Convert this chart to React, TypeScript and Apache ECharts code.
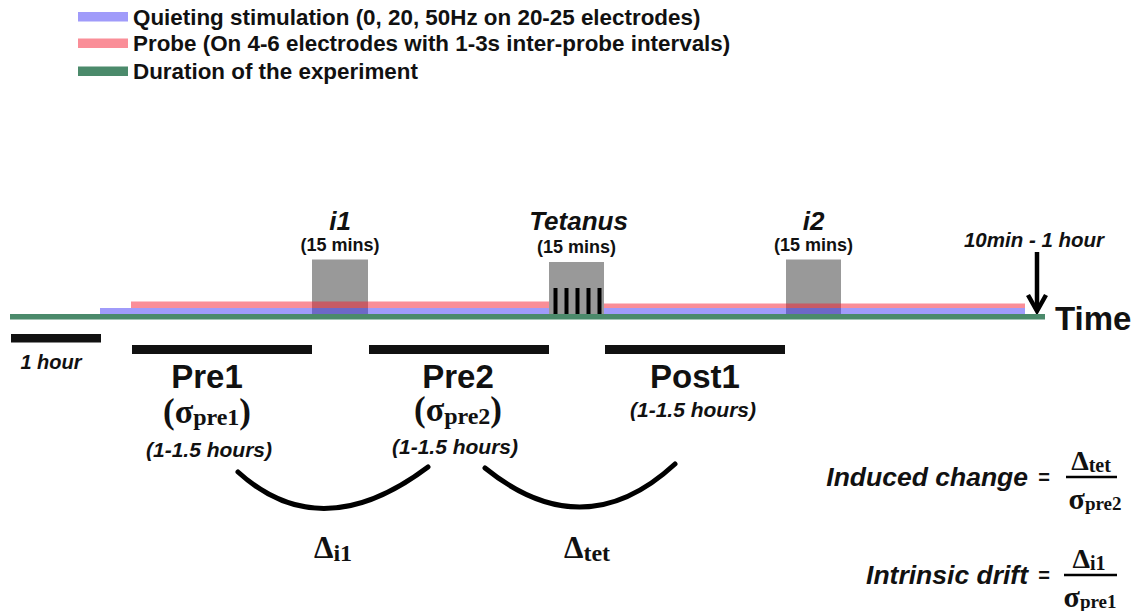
import React, { useEffect, useRef } from "react";
import * as echarts from "echarts";

// ---------------- data ----------------
const legendLabels = [
  "Quieting stimulation (0, 20, 50Hz on 20-25 electrodes)",
  "Probe (On 4-6 electrodes with 1-3s inter-probe intervals)",
  "Duration of the experiment",
];
// timeline in diagram units (left -> right)
const experimentSpan = [[10, 1045]];
const quietingSegments = [[100, 549], [604, 1025]];
const probeSegments = [[131, 549], [604, 1025]];
const interventions = ["i1", "Tetanus", "i2"];
const interventionStart = [312, 549, 786];
const interventionEnd = [368, 604, 841];
const interventionDuration = ["(15 mins)", "(15 mins)", "(15 mins)"];
const tetanusPulses = [555.5, 566.5, 577.5, 588.5, 599.5];
const phases = ["Pre1", "Pre2", "Post1"];
const phaseStart = [132, 369, 605];
const phaseEnd = [312, 549, 785];
const phaseSigma = ["pre1", "pre2", ""];
const phaseDuration = ["(1-1.5 hours)", "(1-1.5 hours)", "(1-1.5 hours)"];
const scaleBar = [[11, 101]];
const scaleLabel = "1 hour";
const comparisons = ["i1", "tet"];
const comparisonStart = [238, 485];
const comparisonEnd = [428, 675];
const endNote = "10min - 1 hour";
const axisName = "Time";
const formulas = ["Induced change", "Intrinsic drift"];
const formulaNum = ["tet", "i1"];
const formulaDen = ["pre2", "pre1"];

// ---------------- styles ----------------
const W = 1143;
const H = 611;
const BLUE = "rgba(65,55,245,0.5)";
const PINK = "rgba(245,30,50,0.5)";
const GREEN = "#4b8a6b";
const GRAY = "#999999";
const INK = "#111111";
const SANS = "'Liberation Sans', Arial, Helvetica, sans-serif";
const SERIF = "'Liberation Serif', 'Times New Roman', serif";

const phaseLabelDx = [-15, -1, 0];

function subRich(main: string, sub: string, mainSize: number, subSize: number, drop: number, parens = false) {
  const text = parens ? `{p|(}{m|${main}}{s|${sub}}{p|)}` : `{m|${main}}{s|${sub}}`;
  const lh = mainSize;
  return {
    text,
    rich: {
      p: { fontFamily: SERIF, fontWeight: "bold", fontSize: mainSize + 1, fill: INK, lineHeight: lh },
      m: { fontFamily: SERIF, fontWeight: "bold", fontSize: mainSize, fill: INK, lineHeight: lh },
      s: { fontFamily: SERIF, fontWeight: "bold", fontSize: subSize, fill: INK, padding: [drop, 0, 0, 0], lineHeight: Math.max(8, lh - drop - 6) },
    },
  };
}

function segmentSeries(name: string, data: number[][], yTop: number, yBot: number, color: string, z: number) {
  return {
    type: "custom",
    name,
    data,
    z,
    clip: false,
    renderItem: (params: any, api: any) => {
      const a = api.coord([api.value(0), yTop]);
      const b = api.coord([api.value(1), yBot]);
      return {
        type: "rect",
        shape: { x: a[0], y: a[1], width: b[0] - a[0], height: b[1] - a[1] },
        style: { fill: color },
      };
    },
  };
}

function buildOption() {
  const series: any[] = [];

  // gray intervention boxes + labels
  series.push({
    type: "custom",
    name: "interventions",
    z: 1,
    clip: false,
    data: interventions.map((n, i) => [interventionStart[i], interventionEnd[i]]),
    renderItem: (params: any, api: any) => {
      const i = params.dataIndex;
      const isTet = interventions[i] === "Tetanus";
      const a = api.coord([api.value(0), isTet ? 262 : 259.5]);
      const b = api.coord([api.value(1), 314]);
      const cx = (a[0] + b[0]) / 2;
      const children: any[] = [
        { type: "rect", shape: { x: a[0], y: a[1], width: b[0] - a[0], height: b[1] - a[1] }, style: { fill: GRAY } },
        {
          type: "text",
          x: cx + (isTet ? 2 : 0),
          y: api.coord([0, 221])[1],
          style: { text: interventions[i], fontFamily: SANS, fontWeight: "bold", fontStyle: "italic", fontSize: 26, fill: INK, align: "center", verticalAlign: "middle" },
        },
        {
          type: "text",
          x: cx,
          y: api.coord([0, isTet ? 247 : 245])[1],
          style: { text: interventionDuration[i], fontFamily: SANS, fontWeight: "bold", fontSize: 18, fill: INK, align: "center", verticalAlign: "middle" },
        },
      ];
      if (isTet) {
        tetanusPulses.forEach((p) => {
          const t = api.coord([p - 2, 288]);
          const u = api.coord([p + 2, 314]);
          children.push({ type: "rect", shape: { x: t[0], y: t[1], width: u[0] - t[0], height: u[1] - t[1] }, style: { fill: "#000" } });
        });
      }
      return { type: "group", children };
    },
  });

  series.push(segmentSeries(legendLabels[2], experimentSpan, 314, 319.5, GREEN, 2));
  series.push(segmentSeries(legendLabels[0], quietingSegments, 308, 314, BLUE, 3));
  series.push({
    ...segmentSeries(legendLabels[1], probeSegments, 302, 308, PINK, 3),
    renderItem: (params: any, api: any) => {
      const top = params.dataIndex === 0 ? 301.5 : 303.5;
      const a = api.coord([api.value(0), top]);
      const b = api.coord([api.value(1), 308]);
      return { type: "rect", shape: { x: a[0], y: a[1], width: b[0] - a[0], height: b[1] - a[1] }, style: { fill: PINK } };
    },
  });

  // 1-hour scale bar
  series.push({
    type: "custom",
    name: "scale",
    clip: false,
    data: scaleBar,
    renderItem: (params: any, api: any) => {
      const a = api.coord([api.value(0), 334]);
      const b = api.coord([api.value(1), 342.5]);
      return {
        type: "group",
        children: [
          { type: "rect", shape: { x: a[0], y: a[1], width: b[0] - a[0], height: b[1] - a[1] }, style: { fill: "#111" } },
          {
            type: "text",
            x: (a[0] + b[0]) / 2 - 5,
            y: api.coord([0, 362])[1],
            style: { text: scaleLabel, fontFamily: SANS, fontWeight: "bold", fontStyle: "italic", fontSize: 20, fill: INK, align: "center", verticalAlign: "middle" },
          },
        ],
      };
    },
  });

  // phase bars + labels
  series.push({
    type: "custom",
    name: "phases",
    clip: false,
    data: phases.map((p, i) => [phaseStart[i], phaseEnd[i]]),
    renderItem: (params: any, api: any) => {
      const i = params.dataIndex;
      const a = api.coord([api.value(0), 345]);
      const b = api.coord([api.value(1), 354]);
      const cx = (a[0] + b[0]) / 2 + phaseLabelDx[i];
      const children: any[] = [
        { type: "rect", shape: { x: a[0], y: a[1], width: b[0] - a[0], height: b[1] - a[1] }, style: { fill: "#111" } },
        {
          type: "text",
          x: cx,
          y: api.coord([0, 376])[1],
          style: { text: phases[i], fontFamily: SANS, fontWeight: "bold", fontSize: 33, lineHeight: 27, fill: INK, align: "center", verticalAlign: "middle" },
        },
      ];
      const hasSigma = phaseSigma[i] !== "";
      if (hasSigma) {
        children.push({
          type: "text",
          x: cx,
          y: api.coord([0, i === 0 ? 411 : 409.5])[1],
          style: { ...subRich("σ", phaseSigma[i], 34, 24, 12, true), align: "center", verticalAlign: "middle" },
        });
      }
      children.push({
        type: "text",
        x: cx + (i === 0 ? 2 : i === 1 ? -3 : -2),
        y: api.coord([0, hasSigma ? (i === 0 ? 449 : 446.5) : 409])[1],
        style: { text: phaseDuration[i], fontFamily: SANS, fontWeight: "bold", fontStyle: "italic", fontSize: 21, fill: INK, align: "center", verticalAlign: "middle" },
      });
      return { type: "group", children };
    },
  });

  // comparison arcs
  series.push({
    type: "custom",
    name: "comparisons",
    clip: false,
    data: comparisons.map((c, i) => [comparisonStart[i], comparisonEnd[i]]),
    renderItem: (params: any, api: any) => {
      const i = params.dataIndex;
      const y0 = i === 0 ? 472 : 468;
      const y1 = i === 0 ? 467 : 464;
      const bottom = i === 0 ? 508.5 : 507;
      const s = api.coord([api.value(0), y0]);
      const e = api.coord([api.value(1), y1]);
      const midX = (s[0] + e[0]) / 2 - (i === 0 ? 6 : -2);
      const cpy = 2 * api.coord([0, bottom])[1] - (s[1] + e[1]) / 2;
      const cpx = (4 * midX - s[0] - e[0]) / 2;
      const labelX = (s[0] + e[0]) / 2 + (i === 0 ? 0 : 7);
      return {
        type: "group",
        children: [
          {
            type: "bezierCurve",
            shape: { x1: s[0], y1: s[1], x2: e[0], y2: e[1], cpx1: cpx, cpy1: cpy },
            style: { stroke: "#000", lineWidth: 5, fill: null, lineCap: "round" },
          },
          {
            type: "text",
            x: labelX,
            y: api.coord([0, 547])[1],
            style: { ...subRich("Δ", comparisons[i], 31, 24, 12), align: "center", verticalAlign: "middle" },
          },
        ],
      };
    },
  });

  // ---------- graphic annotations ----------
  const graphic: any[] = [];
  const legendColors = [BLUE, PINK, GREEN];
  const legendY = [16.5, 43, 71];
  legendLabels.forEach((l, i) => {
    graphic.push({ type: "rect", shape: { x: 78, y: legendY[i] - 4.5, width: 50, height: 9.5 }, style: { fill: legendColors[i] } });
    graphic.push({
      type: "text",
      x: 133,
      y: legendY[i] + 0.5,
      style: { text: l, fontFamily: SANS, fontWeight: "bold", fontSize: 22.4, fill: INK, align: "left", verticalAlign: "middle" },
    });
  });

  // end note with arrow
  graphic.push({
    type: "text",
    x: 1034,
    y: 239,
    style: { text: endNote, fontFamily: SANS, fontWeight: "bold", fontStyle: "italic", fontSize: 20.5, fill: INK, align: "center", verticalAlign: "middle" },
  });
  graphic.push({ type: "line", shape: { x1: 1037, y1: 252, x2: 1037, y2: 309 }, style: { stroke: "#000", lineWidth: 4.5 } });
  graphic.push({
    type: "polyline",
    shape: { points: [[1028, 295], [1037, 311], [1046, 295]] },
    style: { stroke: "#000", lineWidth: 4.5, fill: null, lineJoin: "miter" },
  });
  graphic.push({
    type: "text",
    x: 1055,
    y: 318,
    style: { text: axisName, fontFamily: SANS, fontWeight: "bold", fontSize: 33, fill: INK, align: "left", verticalAlign: "middle" },
  });

  // formulas
  const rowY = [477, 575];
  const numX = [1091, 1089];
  const denX = [1095, 1090];
  const barX = [[1066, 1117], [1064, 1117]];
  formulas.forEach((f, i) => {
    graphic.push({
      type: "text",
      x: 1028,
      y: rowY[i],
      style: { text: f, fontFamily: SANS, fontWeight: "bold", fontStyle: "italic", fontSize: 26.5, fill: INK, align: "right", verticalAlign: "middle" },
    });
    graphic.push({
      type: "text",
      x: 1044,
      y: rowY[i],
      style: { text: "=", fontFamily: SANS, fontWeight: "bold", fontSize: 20, fill: INK, align: "center", verticalAlign: "middle" },
    });
    graphic.push({ type: "line", shape: { x1: barX[i][0], y1: rowY[i], x2: barX[i][1], y2: rowY[i] }, style: { stroke: "#000", lineWidth: 2.5 } });
    graphic.push({
      type: "text",
      x: numX[i],
      y: rowY[i] - 17,
      style: { ...subRich("Δ", formulaNum[i], 28, 20, 10), align: "center", verticalAlign: "middle" },
    });
    graphic.push({
      type: "text",
      x: denX[i],
      y: rowY[i] + 21,
      style: { ...subRich("σ", formulaDen[i], 30, 19, 10), align: "center", verticalAlign: "middle" },
    });
  });

  return {
    animation: false,
    backgroundColor: "#ffffff",
    grid: { left: 0, right: 0, top: 0, bottom: 0 },
    xAxis: { type: "value", min: 0, max: W, show: false },
    yAxis: { type: "value", min: 0, max: H, inverse: true, show: false },
    series,
    graphic,
  };
}

export default function App() {
  const ref = useRef<HTMLDivElement>(null);
  useEffect(() => {
    document.body.style.margin = "0";
    const chart = echarts.init(ref.current as HTMLDivElement, null, { renderer: "svg" });
    chart.setOption(buildOption() as any);
    return () => chart.dispose();
  }, []);
  return <div ref={ref} style={{ width: W, height: H, background: "#fff" }} />;
}
